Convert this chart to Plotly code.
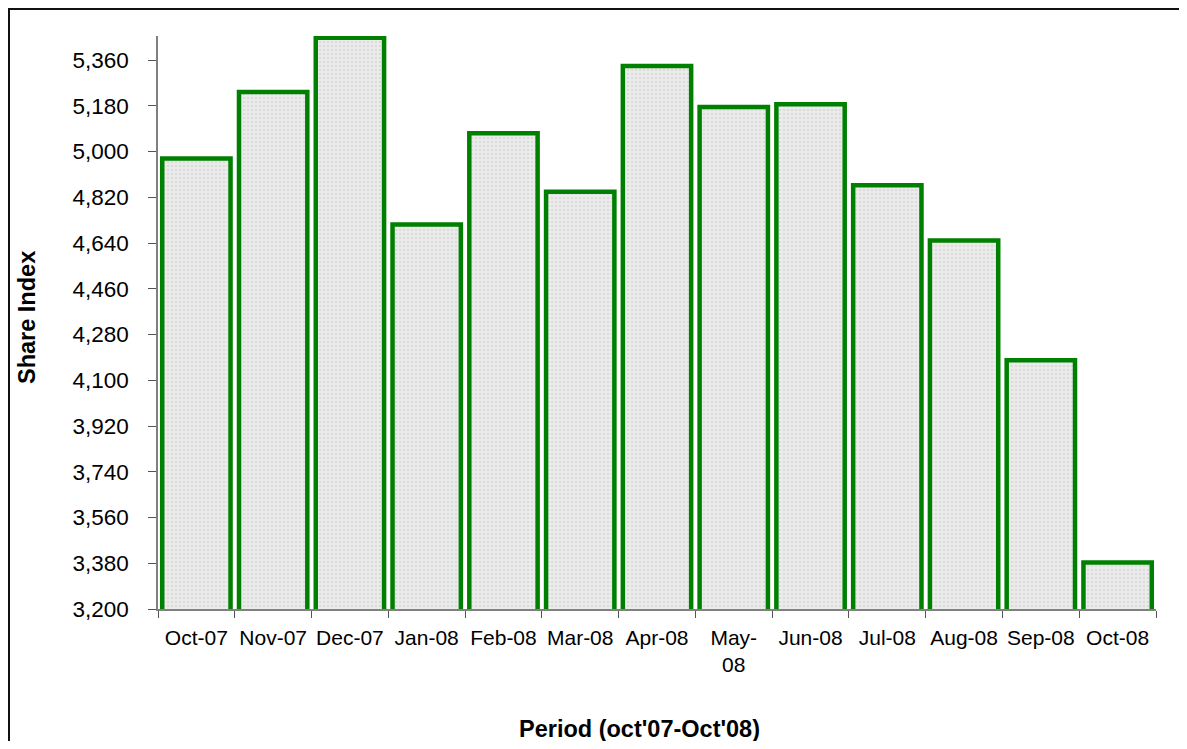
import plotly.graph_objects as go

categories = ["Oct-07", "Nov-07", "Dec-07", "Jan-08", "Feb-08", "Mar-08", "Apr-08",
              "May-08", "Jun-08", "Jul-08", "Aug-08", "Sep-08", "Oct-08"]
tick_labels = ["Oct-07", "Nov-07", "Dec-07", "Jan-08", "Feb-08", "Mar-08", "Apr-08",
               "May-<br>08", "Jun-08", "Jul-08", "Aug-08", "Sep-08", "Oct-08"]
share_index = [4973, 5235, 5448, 4713, 5072, 4842, 5337, 5176, 5186, 4868, 4650, 4179, 3383]
y_ticks = [3200, 3380, 3560, 3740, 3920, 4100, 4280, 4460, 4640, 4820, 5000, 5180, 5360]

FONT = "Liberation Sans, Arial, sans-serif"

fig = go.Figure()
fig.add_trace(go.Bar(
    x=categories, y=share_index,
    marker=dict(
        color="#e6e6e6",
        line=dict(color="#008000", width=4.5),
        pattern=dict(shape=".", fgcolor="#cccccc", bgcolor="#ececec",
                     size=4, solidity=0.35, fillmode="overlay"),
    ),
    hoverinfo="x+y",
))

# page has an 8px body margin; figure coordinates are page coordinates minus 8
OFF = 8
W, H = 1171, 733
L, R, T, B = 150, 23, 28, 132
pw = W - L - R
ph = H - T - B

def px_x(x_page):
    return (x_page - OFF - L) / pw

def px_y(y_page):
    return (H - B - (y_page - OFF)) / ph

fig.update_layout(
    width=W, height=H, autosize=False,
    margin=dict(l=L, r=R, t=T, b=B, pad=0),
    paper_bgcolor="white", plot_bgcolor="white",
    bargap=0.11,
    showlegend=False,
    font=dict(family=FONT, size=21, color="black"),
    xaxis=dict(
        type="category",
        tickvals=categories, ticktext=tick_labels,
        tickson="boundaries", ticks="outside", ticklen=7, tickwidth=1, tickcolor="#555555",
        showline=True, linecolor="#808080", linewidth=1.5,
        showgrid=False, zeroline=False,
        tickfont=dict(family=FONT, size=21, color="black"),
        ticklabelstandoff=9,
        fixedrange=True,
    ),
    yaxis=dict(
        range=[3200, 5455],
        tickmode="array", tickvals=y_ticks, tickformat=",d",
        ticks="outside", ticklen=8, tickwidth=1, tickcolor="#555555",
        showline=True, linecolor="#808080", linewidth=1.5,
        showgrid=False, zeroline=False,
        tickfont=dict(family=FONT, size=22.5, color="black"),
        ticklabelstandoff=15,
        fixedrange=True,
    ),
    shapes=[
        dict(type="rect", xref="paper", yref="paper",
             x0=px_x(9), x1=px_x(1300), y0=px_y(900), y1=px_y(9),
             line=dict(color="#111111", width=2), fillcolor="rgba(0,0,0,0)", layer="below"),
    ],
    annotations=[
        dict(text="<b>Share Index</b>", xref="paper", yref="paper",
             x=px_x(27), y=px_y(318), textangle=-90, showarrow=False,
             xanchor="center", yanchor="middle",
             font=dict(family=FONT, size=23.5, color="black")),
        dict(text="<b>Period (oct'07-Oct'08)</b>", xref="paper", yref="paper",
             x=px_x(639), y=px_y(729), showarrow=False,
             xanchor="center", yanchor="middle",
             font=dict(family=FONT, size=23.5, color="black")),
    ],
)

fig.write_html("out.html")
